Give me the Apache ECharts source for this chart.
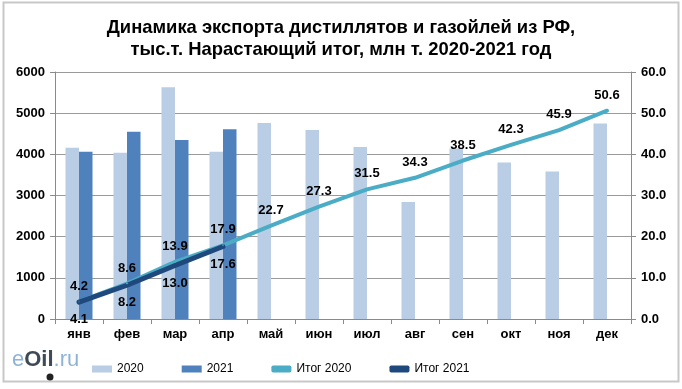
<!DOCTYPE html>
<html><head><meta charset="utf-8">
<script src="https://cdn.jsdelivr.net/npm/echarts@6/dist/echarts.min.js"></script>
<style>html,body{margin:0;padding:0;background:#fff}#c{width:682px;height:389px}</style>
</head><body><div id="c"></div>
<script>
const categories = ['янв','фев','мар','апр','май','июн','июл','авг','сен','окт','ноя','дек'];
const bars2020 = [4160, 4040, 5630, 4060, 4760, 4590, 4180, 2840, 4140, 3800, 3580, 4750];
const bars2021 = [4060, 4550, 4350, 4610, null, null, null, null, null, null, null, null];
const total2020 = [4.2, 8.6, 13.9, 17.9, 22.7, 27.3, 31.5, 34.3, 38.5, 42.3, 45.9, 50.6];
const total2021 = [4.1, 8.2, 13.0, 17.6];
const leftTicks = [0, 6000, 1000];
const rightTicks = [0, 60, 10];

const chart = echarts.init(document.getElementById('c'), null, {renderer:'canvas'});
const F = 'Arial, "Liberation Sans", sans-serif';
const axisGray = '#8a8a8a';
chart.setOption({
  animation:false,
  backgroundColor:'#fff',
  title:{
    text:'Динамика экспорта дистиллятов и газойлей из РФ,\nтыс.т. Нарастающий итог, млн т. 2020-2021 год',
    left:'center', top:12,
    textStyle:{fontFamily:F, fontSize:18.4, fontWeight:'bold', color:'#000', lineHeight:22}
  },
  graphic:[
    {type:'rect', shape:{x:3.5,y:2.5,width:675,height:379}, style:{fill:'none', stroke:'#c8c8c8', lineWidth:2}, silent:true},
    {type:'text', left:12, top:349, style:{
      text:'{e|e}{o|Oil}{r|.ru}',
      rich:{
        e:{fontFamily:F, fontSize:22, fill:'#8fb3d6'},
        o:{fontFamily:F, fontSize:22, fontWeight:'bold', fill:'#3f4a57'},
        r:{fontFamily:F, fontSize:22, fill:'#8fb3d6'}
      }}},
    {type:'circle', shape:{cx:50, cy:377, r:3.5}, style:{fill:'#222'}, silent:true}
  ],
  legend:{
    left:87, top:358, itemWidth:20, itemHeight:7, itemGap:38,
    textStyle:{fontFamily:F, fontSize:12, color:'#000'},
    data:[
      {name:'2020', icon:'rect'},
      {name:'2021', icon:'rect'},
      {name:'Итог 2020', icon:'roundRect'},
      {name:'Итог 2021', icon:'roundRect'}
    ]
  },
  grid:{left:55, right:51, top:72, bottom:70},
  xAxis:{
    type:'category', data:categories,
    axisLine:{lineStyle:{color:axisGray}},
    axisTick:{show:true, length:5, lineStyle:{color:axisGray}},
    axisLabel:{fontFamily:F, fontSize:13, fontWeight:'bold', color:'#000', margin:9}
  },
  yAxis:[
    {type:'value', min:leftTicks[0], max:leftTicks[1], interval:leftTicks[2],
     axisLine:{show:true, lineStyle:{color:axisGray}},
     axisTick:{show:true, length:5, lineStyle:{color:axisGray}},
     splitLine:{lineStyle:{color:'#9a9a9a'}},
     axisLabel:{fontFamily:F, fontSize:13, fontWeight:'bold', color:'#000', margin:10, formatter:v=>String(v)}},
    {type:'value', min:rightTicks[0], max:rightTicks[1], interval:rightTicks[2], position:'right',
     axisLine:{show:true, lineStyle:{color:axisGray}},
     axisTick:{show:true, length:5, lineStyle:{color:axisGray}},
     splitLine:{show:false},
     axisLabel:{fontFamily:F, fontSize:13, fontWeight:'bold', color:'#000', margin:10,
       formatter:v=>v.toFixed(1)}}
  ],
  series:[
    {name:'2020', type:'bar', data:bars2020, barWidth:13.5, barGap:'0%',
     itemStyle:{color:'#B9CDE5'}},
    {name:'2021', type:'bar', data:bars2021, barWidth:13.5, barGap:'0%',
     itemStyle:{color:'#4F81BD'}},
    {name:'Итог 2020', type:'line', yAxisIndex:1, data:total2020, symbol:'circle', symbolSize:2, showSymbol:true,
     lineStyle:{color:'#4BACC6', width:4, cap:'round', join:'round'}, itemStyle:{color:'#4BACC6'},
     labelLayout:{hideOverlap:false},
     label:{show:true, position:'top', distance:8, fontFamily:F, fontSize:13, fontWeight:'bold', color:'#000',
       formatter:p=>p.value.toFixed(1)}},
    {name:'Итог 2021', type:'line', yAxisIndex:1, data:total2021, symbol:'circle', symbolSize:2, showSymbol:true,
     lineStyle:{color:'#1F497D', width:5, cap:'round', join:'round'}, itemStyle:{color:'#1F497D'},
     labelLayout:{hideOverlap:false},
     label:{show:true, position:'bottom', distance:10, fontFamily:F, fontSize:13, fontWeight:'bold', color:'#000',
       formatter:p=>p.value.toFixed(1)}}
  ]
});
</script></body></html>
